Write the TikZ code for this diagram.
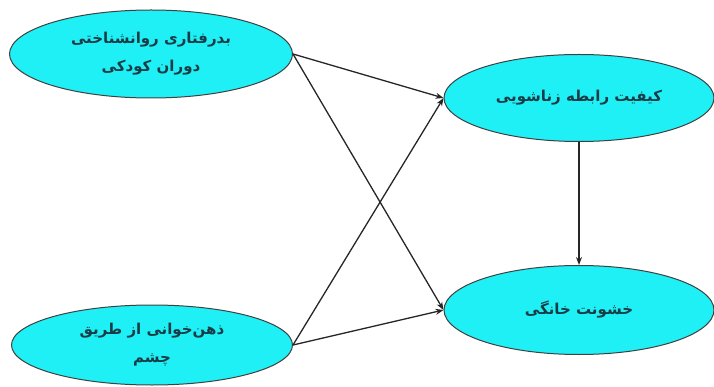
\documentclass[tikz,border=0pt]{standalone}
\usepackage{fontspec}
\newfontfamily\arabicfont[Script=Arabic]{DejaVu Sans}
\TeXXeTstate=1
\usetikzlibrary{shapes.geometric,arrows.meta}
\definecolor{ovalfill}{RGB}{30,240,245}
\definecolor{ovaltext}{RGB}{25,60,70}
\begin{document}
\begin{tikzpicture}[x=1pt,y=-1pt,
  oval/.style={ellipse,draw=black!75,line width=1pt,fill=ovalfill,inner sep=0pt,
    align=center,font=\arabicfont\bfseries\fontsize{15}{28}\selectfont,text=ovaltext},
  arr/.style={draw=black!85,line width=1.3pt,-{Stealth[length=8pt,width=6pt]}}]
\useasboundingbox (0,0) rectangle (714,387);
\node[oval,minimum width=283pt,minimum height=88pt] (e1) at (151,54)
  {\beginR بدرفتاری روانشناختی\endR\\\beginR دوران کودکی\endR};
\node[oval,minimum width=270pt,minimum height=87pt] (e2) at (579,98)
  {\beginR کیفیت رابطه زناشویی\endR};
\node[oval,minimum width=270pt,minimum height=89pt] (e3) at (579,310)
  {\beginR خشونت خانگی\endR};
\node[oval,minimum width=281pt,minimum height=80pt] (e4) at (152,345)
  {\beginR ذهن‌خوانی از طریق\endR\\\beginR چشم\endR};
\draw[arr] (e1.east) -- (e2.west);
\draw[arr] (e1.east) -- (e3.west);
\draw[arr] (e4.east) -- (e2.west);
\draw[arr] (e4.east) -- (e3.west);
\draw[arr] (e2.south) -- (e3.north);
\end{tikzpicture}
\end{document}
